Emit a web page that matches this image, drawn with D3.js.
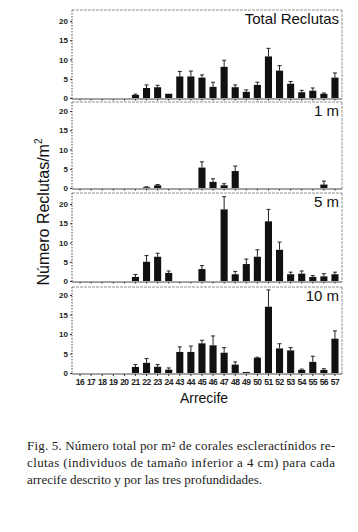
<!DOCTYPE html>
<html><head><meta charset="utf-8">
<script src="https://cdn.jsdelivr.net/npm/d3@7"></script>
<style>
html,body{margin:0;padding:0;background:#fff;}
svg{display:block;}
.cap{font-family:"Liberation Serif","Times New Roman",serif;font-size:13px;fill:#222;}
</style></head>
<body>
<script>
const categories = ["16","17","18","19","20","21","22","23","24","43","44","45","46","47","48","49","50","51","52","53","54","55","56","57"];
const panelLabels = ["Total Reclutas","1 m","5 m","10 m"];
const yTicks = [0,5,10,15,20];
// mean values per reef
const totalVals = [0,0,0,0,0,0.8,2.6,2.8,1.1,5.6,5.6,5.3,2.9,8.1,2.8,1.6,3.4,10.8,7.1,3.7,1.5,1.9,1.1,5.3];
const totalErr  = [0,0,0,0,0,1.0,3.4,3.3,1.1,6.9,7.0,6.0,4.1,9.8,3.4,2.1,4.1,12.9,8.4,4.3,2.0,2.6,1.3,6.5];
const m1Vals = [0,0,0,0,0,0,0.2,0.7,0,0,0,5.3,1.6,0.7,4.4,0,0,0,0,0,0,0,0.9,0];
const m1Err  = [0,0,0,0,0,0,0.3,0.9,0,0,0,6.8,2.4,1.1,5.7,0,0,0,0,0,0,0,1.8,0];
const m5Vals = [0,0,0,0,0,1.05,5.0,6.3,2.1,0,0,3.1,0,18.6,1.75,4.4,6.3,15.5,8.1,1.75,1.9,1.05,1.2,1.75];
const m5Err  = [0,0,0,0,0,1.7,6.6,7.2,2.6,0,0,4.0,0,21.9,2.5,5.7,8.1,18.6,10.1,2.3,2.6,1.4,1.9,2.3];
const m10Vals = [0,0,0,0,0,1.55,2.6,1.6,0.85,5.4,5.4,7.6,7.1,5.2,2.15,0.25,3.9,17.0,6.3,5.8,0.8,2.85,0.8,8.8];
const m10Err  = [0,0,0,0,0,2.15,3.7,2.15,1.3,6.7,6.9,8.4,9.5,6.5,2.85,0.25,4.05,21.3,7.5,6.5,1.0,4.3,1.1,10.8];
const seriesVals = [totalVals, m1Vals, m5Vals, m10Vals];
const seriesErr = [totalErr, m1Err, m5Err, m10Err];
const xTitle = "Arrecife";
const yTitle = "Número Reclutas/m";
const captionLines = [
  "Fig. 5.  Número total por m² de corales escleractínidos re-",
  "clutas (individuos de tamaño inferior a 4 cm) para cada",
  "arrecife descrito y por las tres profundidades."
];

const W = 358, H = 532;
const svg = d3.select("body").append("svg").attr("width", W).attr("height", H);

const xLeft = 72, xRight = 342;
const x = d3.scaleBand().domain(categories).range([74.5, 340.5]).paddingInner(0.36).paddingOuter(0.18);

const panels = [
  {top: 10, y0: 98, y20: 21},
  {top: 102, y0: 188, y20: 111},
  {top: 193, y0: 281, y20: 204},
  {top: 287, y0: 373, y20: 295}
];

panels.forEach((p, i) => {
  const y = d3.scaleLinear().domain([0, 20]).range([p.y0, p.y20]);
  const g = svg.append("g");
  g.append("line").attr("x1", xLeft).attr("x2", xRight).attr("y1", p.top).attr("y2", p.top)
    .attr("stroke", "#777").attr("stroke-width", 0.8).attr("stroke-dasharray", "3,1");
  g.append("line").attr("x1", xRight).attr("x2", xRight).attr("y1", p.top).attr("y2", p.y0 + 1)
    .attr("stroke", "#777").attr("stroke-width", 0.8).attr("stroke-dasharray", "3,1");
  const yAxis = d3.axisLeft(y).tickValues(yTicks).tickSize(2).tickFormat(d3.format("d"));
  const ya = g.append("g").attr("transform", `translate(${xLeft},0)`).call(yAxis);
  ya.select(".domain").attr("d", `M0,${p.top}V${p.y0 + 1}`).attr("stroke", "#333").attr("stroke-width", 0.9).attr("stroke-dasharray", "1.5,1.5");
  ya.selectAll(".tick line").attr("stroke", "#333");
  ya.selectAll(".tick text").attr("font-family", "Liberation Sans, Arial, sans-serif").attr("font-size", 8).attr("font-weight", "bold").attr("fill", "#222").attr("x", -4);
  const xAxis = d3.axisBottom(x).tickSize(i === 3 ? 2 : 1.5).tickFormat(i === 3 ? (d => d) : () => "");
  const xa = g.append("g").attr("transform", `translate(0,${p.y0 + 1})`).call(xAxis);
  xa.select(".domain").attr("d", `M${xLeft},0H${xRight}`).attr("stroke", "#333").attr("stroke-width", 0.9);
  xa.selectAll(".tick line").attr("stroke", "#333");
  xa.selectAll(".tick text").attr("font-family", "Liberation Sans, Arial, sans-serif").attr("font-size", 8.5).attr("font-weight", "bold").attr("fill", "#222").attr("letter-spacing", -0.5).attr("y", 5);
  const vals = seriesVals[i], errs = seriesErr[i];
  const data = categories.map((c, k) => ({c, v: vals[k], e: errs[k]})).filter(d => d.v > 0);
  g.selectAll("rect.bar").data(data).join("rect")
    .attr("x", d => x(d.c)).attr("width", x.bandwidth())
    .attr("y", d => y(d.v)).attr("height", d => y(0) - y(d.v))
    .attr("fill", "#111");
  const eb = data.filter(d => d.e > d.v);
  g.selectAll("line.err").data(eb).join("line")
    .attr("x1", d => x(d.c) + x.bandwidth() / 2).attr("x2", d => x(d.c) + x.bandwidth() / 2)
    .attr("y1", d => y(d.v)).attr("y2", d => y(d.e))
    .attr("stroke", "#222").attr("stroke-width", 1);
  g.selectAll("line.cap").data(eb).join("line")
    .attr("x1", d => x(d.c) + x.bandwidth() / 2 - 2).attr("x2", d => x(d.c) + x.bandwidth() / 2 + 2)
    .attr("y1", d => y(d.e)).attr("y2", d => y(d.e))
    .attr("stroke", "#222").attr("stroke-width", 1);
  g.append("text").attr("x", 339).attr("y", p.top + 14)
    .attr("text-anchor", "end").attr("font-family", "Liberation Sans, Arial, sans-serif")
    .attr("font-size", 15).attr("fill", "#111").text(panelLabels[i]);
});

svg.append("text").attr("x", 204).attr("y", 403).attr("text-anchor", "middle")
  .attr("font-family", "Liberation Sans, Arial, sans-serif").attr("font-size", 14).attr("fill", "#111").text(xTitle);
const yt = svg.append("text").attr("transform", "translate(49,212) rotate(-90)").attr("text-anchor", "middle")
  .attr("font-family", "Liberation Sans, Arial, sans-serif").attr("font-size", 16).attr("fill", "#111");
yt.append("tspan").text(yTitle);
yt.append("tspan").attr("dy", -7).attr("font-size", 10).text("2");

const capY = [450, 467, 484];
captionLines.forEach((t, k) => {
  const tx = svg.append("text").attr("class", "cap").attr("x", 27).attr("y", capY[k]).text(t);
  if (k < 2) tx.attr("textLength", 308).attr("lengthAdjust", "spacing");
});
</script>
</body></html>
